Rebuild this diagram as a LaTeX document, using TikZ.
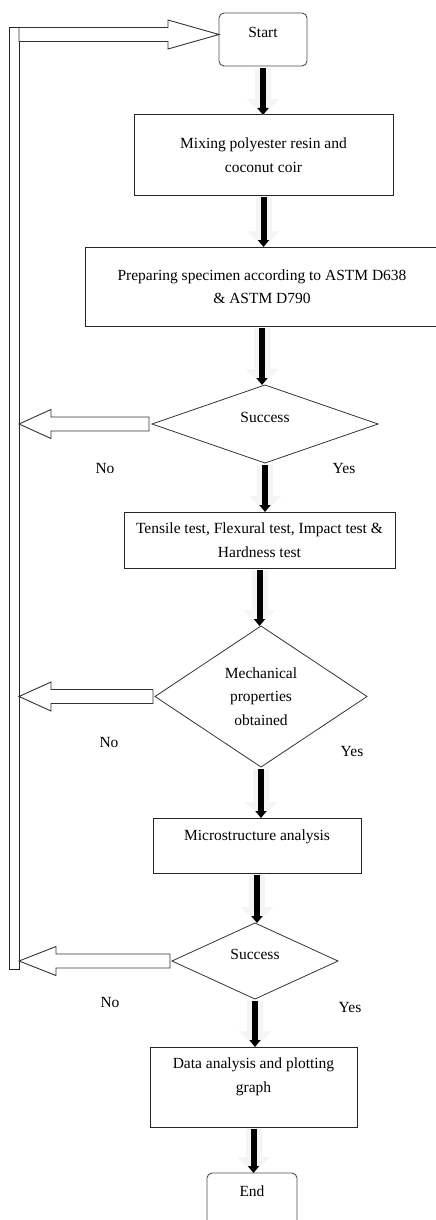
\documentclass[tikz,border=0pt]{standalone}
\usepackage{fontspec}
\setmainfont{Liberation Serif}
\usetikzlibrary{positioning,arrows.meta,shapes.geometric,calc}

% hollow feedback arrow: tail, tip, head length
\newcommand{\hollowArrow}[3]{%
    \draw[loopArrow] ($(#1)+(0,-7)$) -- ($(#2)!#3!(#1)+(0,-7)$) -- ($(#2)!#3!(#1)+(0,-14.5)$)
        -- (#2) -- ($(#2)!#3!(#1)+(0,14.5)$) -- ($(#2)!#3!(#1)+(0,7)$) -- ($(#1)+(0,7)$) -- cycle;}

\begin{document}
\begin{tikzpicture}[x=1pt, y=-1pt,
    every node/.style={font=\fontsize{15.5}{23.5}\selectfont, outer sep=0pt},
    termBox/.style={rectangle, rounded corners=5pt, draw=black!70, line width=0.9pt, minimum width=88pt, minimum height=53pt, inner sep=0pt},
    procBox/.style={rectangle, draw=black!85, line width=1pt, align=center, inner sep=0pt},
    decBox/.style={diamond, draw=black!80, line width=0.8pt, align=center, inner sep=1pt},
    ansLabel/.style={inner sep=0pt},
    loopBar/.style={rectangle, draw=black!85, line width=0.9pt, minimum width=10pt, minimum height=941.5pt, inner sep=0pt},
    loopArrow/.style={draw=black!80, line width=0.9pt, fill=white, line join=miter},
    flowArrow/.style={line width=6pt, draw=black, -{Triangle[length=7pt,width=11pt]}, shorten <=2pt,
        preaction={draw=black!4, line width=16pt, -{Triangle[length=16pt,width=32pt]}}}
]
    \useasboundingbox (0,0) rectangle (436,1220);

    \node[termBox, text depth=14pt] (start) at (263,39.5) {Start};
    \node[procBox, minimum width=259pt, minimum height=80pt, below=49pt of start, xshift=0.5pt] (mix) {Mixing polyester resin and\\coconut coir};
    \node[procBox, minimum width=354pt, minimum height=79pt, below=52pt of mix, xshift=-1.5pt] (prep) {Preparing specimen according to ASTM D638\\\& ASTM D790};
    \node[decBox, aspect=2.9, minimum width=226pt, minimum height=78pt, text depth=14pt, below=59pt of prep, xshift=3pt] (succ1) {Success};
    \node[procBox, minimum width=271pt, minimum height=56pt, below=49pt of succ1, xshift=-5.5pt] (tests) {Tensile test, Flexural test, Impact test \&\\Hardness test};
    \node[decBox, aspect=1.5, minimum width=212pt, minimum height=141pt, below=58pt of tests, xshift=1.5pt] (mech) {Mechanical\\properties\\obtained};
    \node[procBox, minimum width=208pt, minimum height=55pt, text depth=21pt, below=51pt of mech, xshift=-4pt] (micro) {Microstructure analysis};
    \node[decBox, aspect=2.2, minimum width=166pt, minimum height=76pt, text depth=14pt, below=50pt of micro, xshift=-2pt] (succ2) {Success};
    \node[procBox, minimum width=207pt, minimum height=80pt, text depth=24pt, below=48pt of succ2, xshift=-1.5pt] (data) {Data analysis and plotting\\graph};
    \node[termBox, minimum width=90pt, text depth=17pt, below=46pt of data, xshift=-1.5pt] (finish) {End};

    \draw[flowArrow] (start.south) -- (start.south |- mix.north);
    \draw[flowArrow] (mix.south) -- (mix.south |- prep.north);
    \draw[flowArrow] (prep.south) -- (prep.south |- succ1.north);
    \draw[flowArrow] (succ1.south) -- (succ1.south |- tests.north);
    \draw[flowArrow] (tests.south) -- (tests.south |- mech.north);
    \draw[flowArrow] (mech.south) -- (mech.south |- micro.north);
    \draw[flowArrow] (micro.south) -- (micro.south |- succ2.north);
    \draw[flowArrow] (succ2.south) -- (succ2.south |- data.north);
    \draw[flowArrow] (data.south) -- (data.south |- finish.north);

    % Yes / No
    \node[ansLabel] (no1) at ([shift={(-160,44)}]succ1.center) {No};
    \node[ansLabel] (yes1) at ([shift={(79,44)}]succ1.center) {Yes};
    \node[ansLabel] (no2) at ([shift={(-152,46)}]mech.center) {No};
    \node[ansLabel] (yes2) at ([shift={(91,55)}]mech.center) {Yes};
    \node[ansLabel] (no3) at ([shift={(-145,41)}]succ2.center) {No};
    \node[ansLabel] (yes3) at ([shift={(95,46)}]succ2.center) {Yes};

    % Return loop
    \node[loopBar] (bar) at (14,498.25) {};
    \coordinate (topTip) at ([yshift=5pt]start.west);
    \coordinate (topTail) at (bar.east |- topTip);
    \hollowArrow{topTail}{topTip}{51pt}
    \coordinate (tail1) at ([xshift=-3pt]succ1.west);
    \coordinate (back1) at (bar.east |- succ1.west);
    \hollowArrow{tail1}{back1}{32pt}
    \coordinate (tail2) at ([xshift=-2pt]mech.west);
    \coordinate (back2) at (bar.east |- mech.west);
    \hollowArrow{tail2}{back2}{32pt}
    \coordinate (tail3) at ([xshift=-2pt]succ2.west);
    \coordinate (back3) at (bar.east |- succ2.west);
    \hollowArrow{tail3}{back3}{37pt}
\end{tikzpicture}
\end{document}
